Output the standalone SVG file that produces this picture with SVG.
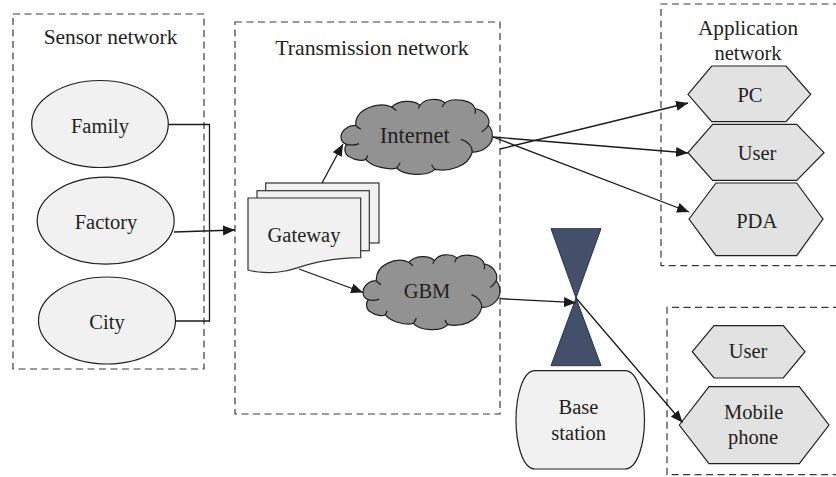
<svg xmlns="http://www.w3.org/2000/svg" xmlns:xlink="http://www.w3.org/1999/xlink" width="836" height="477" viewBox="0 0 836 477">
<style>
text{font-family:"Liberation Serif","Times New Roman",serif;font-size:20.5px;fill:#231f20;text-anchor:middle}
.box{fill:none;stroke:#3a3a3a;stroke-width:1.2;stroke-dasharray:7 4.5}
.ell{fill:#f1f1f1;stroke:#231f20;stroke-width:1.2}
.hex{fill:#e2e2e2;stroke:#231f20;stroke-width:1.2}
.doc{fill:#f1f1f1;stroke:#333;stroke-width:1.2}
.cl{fill:#929292;stroke:#231f20;stroke-width:1.2}
.tie{fill:#44506a;stroke:#2c3446;stroke-width:1}
.con{fill:none;stroke:#1a1a1a;stroke-width:1.3}
.arr{marker-end:url(#ah)}
</style>
<defs>
<marker id="ah" markerUnits="userSpaceOnUse" markerWidth="14" markerHeight="12" refX="12" refY="5" orient="auto">
<path d="M0,0 L12,5 L0,10 Z" fill="#1a1a1a"/>
</marker>
<g id="cloud">
<path vector-effect="non-scaling-stroke" d="M62,100 C40,100 18,115 18,135 C18,148 28,155 35,157 C25,170 30,190 45,195 C60,205 85,208 92,202 C110,225 165,235 185,228 C205,250 275,255 300,232 C340,240 400,225 412,180 C445,182 475,155 472,130 C472,115 465,105 460,100 C468,80 450,55 420,50 C415,25 355,15 330,32 C310,18 270,18 255,40 C235,22 190,25 170,45 C130,28 60,50 62,100 Z"/>
<path vector-effect="non-scaling-stroke" fill="none" d="M35,157 C45,160 60,160 72,155 M62,100 C65,105 70,108 78,112 M170,45 C174,48 180,52 184,56 M255,40 C253,42 251,46 250,50 M330,32 C326,36 324,40 322,45 M420,50 C422,55 422,60 420,66 M460,100 C455,110 448,115 440,120 M412,180 C413,165 400,148 378,142 M300,232 C295,228 292,224 290,218 M185,228 C190,222 193,218 195,212 M92,202 C95,198 97,195 98,190"/>
</g>
</defs>

<g id="sensor-network"><rect class="box" x="13" y="14" width="191" height="355"/><text x="110.5" y="43.5" style="font-size:21.4px">Sensor network</text></g>
<g id="transmission-network"><rect class="box" x="235" y="22" width="265" height="392"/><text x="372" y="55" style="font-size:21.8px">Transmission network</text></g>
<g id="application-network"><path class="box" d="M840,4 H661 V265.7 H840"/><text x="748" y="35" style="font-size:21.2px">Application</text><text x="748" y="60">network</text></g>
<g id="mobile-network"><path class="box" d="M840,307.3 H667 V474.7 H840"/></g>

<g id="family"><ellipse class="ell" cx="100" cy="124" rx="68.3" ry="43.5"/><text x="100" y="132.7">Family</text></g>
<g id="factory"><ellipse class="ell" cx="105.7" cy="220.7" rx="68.5" ry="43.5"/><text x="106" y="229">Factory</text></g>
<g id="city"><ellipse class="ell" cx="107" cy="320.5" rx="68.5" ry="43.5"/><text x="107" y="329">City</text></g>

<g id="gateway">
<rect class="doc" x="265.7" y="183" width="113.3" height="60"/>
<rect class="doc" x="257" y="190.7" width="112.3" height="60"/>
<path class="doc" d="M248,198 H360.7 V257.7 C320,258 300,268 285,271 C270,274 255,272 248,270 Z"/>
<text x="304" y="242">Gateway</text>
</g>
<g id="internet"><use xlink:href="#cloud" href="#cloud" class="cl" transform="translate(335 92) scale(.3333)"/><text x="414.7" y="142.7" style="font-size:22.5px">Internet</text></g>
<g id="gbm"><use xlink:href="#cloud" href="#cloud" class="cl" transform="translate(357.6 247.3) scale(.3013 .3333)"/><text x="427" y="298">GBM</text></g>

<g id="pc"><path class="hex" d="M688,94.3 L711.7,66 H786 L810.7,94.3 L786,121.7 H711.7 Z"/><text x="750" y="101.7">PC</text></g>
<g id="user"><path class="hex" d="M688,152.7 L712.7,124.3 H796.7 L824,152.7 L796.7,180.3 H712.7 Z"/><text x="757" y="160">User</text></g>
<g id="pda"><path class="hex" d="M689,219 L716,183 H796.7 L823,219 L796.7,255.7 H716 Z"/><text x="756.7" y="228">PDA</text></g>
<g id="user-2"><path class="hex" d="M692.3,351.7 L714,325.7 H783.3 L805,351.7 L783.3,378 H714 Z"/><text x="748" y="357.7">User</text></g>
<g id="mobile-phone"><path class="hex" d="M679.3,425 L709,386.7 H799.3 L829,425 L799.3,463.7 H709 Z"/><text x="753.7" y="419">Mobile</text><text x="753" y="444">phone</text></g>

<g id="antenna"><path class="tie" d="M551,228.7 H601 L576,298 Z"/><path class="tie" d="M551,365.7 H601 L576,298 Z"/></g>
<g id="base-station"><path class="ell" d="M535,370.7 H625 C638,370.7 644.5,398 644.5,420 C644.5,442 638,469 625,469 H535 C522,469 516,442 516,420 C516,398 522,370.7 535,370.7 Z"/><text x="578.5" y="414">Base</text><text x="578.7" y="440">station</text></g>

<g id="connectors">
<path class="con" d="M168.5,124.5 H209.5 V321 H175.5"/>
<path class="con arr" d="M174,232 L235,230"/>
<path class="con arr" d="M322,183 L343,144"/>
<path class="con arr" d="M299,269 L363,292.5"/>
<path class="con arr" d="M500,149 L688,103"/>
<path class="con arr" d="M493,137 L688,153"/>
<path class="con arr" d="M493,137 L689,212"/>
<path class="con arr" d="M500,298.7 L576,302.7"/>
<path class="con arr" d="M576,298 L682.5,422.5"/>
</g>
</svg>
